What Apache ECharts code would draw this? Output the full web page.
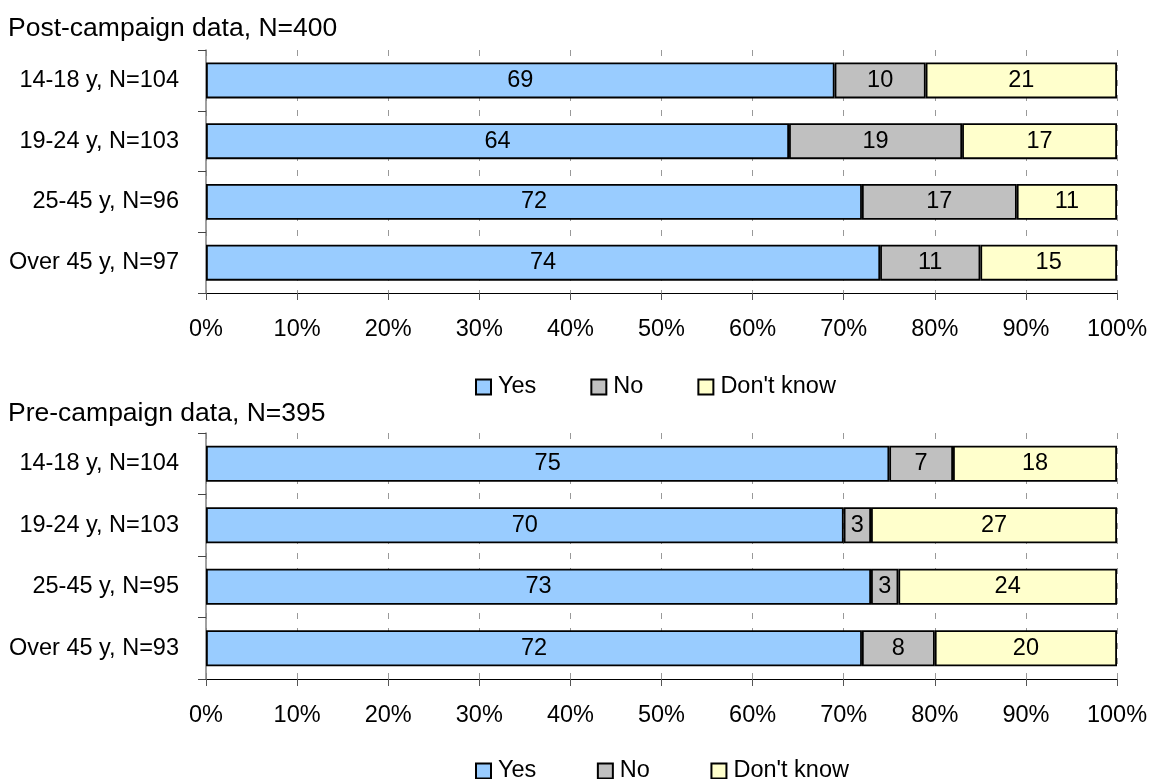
<!DOCTYPE html>
<html>
<head>
<meta charset="utf-8">
<script src="https://cdn.jsdelivr.net/npm/echarts@6/dist/echarts.min.js"></script>
<style>
html,body{margin:0;padding:0;background:#fff;}
#c{width:1151px;height:779px;}
</style>
</head>
<body>
<div id="c"></div>
<script>
const seriesNames = ["Yes", "No", "Don't know"];
const postTitle = "Post-campaign data, N=400";
const preTitle = "Pre-campaign data, N=395";
const postCategories = ["14-18 y, N=104", "19-24 y, N=103", "25-45 y, N=96", "Over 45 y, N=97"];
const preCategories = ["14-18 y, N=104", "19-24 y, N=103", "25-45 y, N=95", "Over 45 y, N=93"];
const postYes = [69, 64, 72, 74];
const postNo = [10, 19, 17, 11];
const postDK = [21, 17, 11, 15];
const preYes = [75, 70, 73, 72];
const preNo = [7, 3, 3, 8];
const preDK = [18, 27, 24, 20];

const colors = ["#99CCFF", "#C0C0C0", "#FFFFCC"];
const FONT = "'Liberation Sans', Arial, sans-serif";
const FS = 23.5;

const chart = echarts.init(document.getElementById('c'), null, {renderer: 'canvas'});

function xAxisCfg(gi) {
  return {
    gridIndex: gi, type: 'value', min: 0, max: 100, interval: 10,
    axisLine: {show: true, lineStyle: {color: '#000', width: 1}},
    axisTick: {show: true, length: 7, lineStyle: {color: '#555'}},
    axisLabel: {formatter: '{value}%', color: '#000', fontFamily: FONT, fontSize: FS, margin: 25},
    splitLine: {show: true, lineStyle: {color: '#999', type: [6, 9], width: 1}}
  };
}
function yAxisCfg(gi, cats) {
  return {
    gridIndex: gi, type: 'category', data: cats, inverse: true,
    axisLine: {show: true, lineStyle: {color: '#808080', width: 1.5}},
    axisTick: {show: true, length: 8, lineStyle: {color: '#444'}},
    axisLabel: {color: '#000', fontFamily: FONT, fontSize: FS, margin: 27},
    splitLine: {show: false}
  };
}
function barSeries(name, data, idx, gi) {
  return {
    name: name, type: 'bar', stack: 's' + gi, xAxisIndex: gi, yAxisIndex: gi,
    data: data, barWidth: 36,
    itemStyle: {color: colors[idx], borderColor: '#000', borderWidth: 1.8},
    label: {show: true, position: 'inside', color: '#000', fontFamily: FONT, fontSize: FS},
    emphasis: {disabled: true}
  };
}
const legendCommon = {
  left: 470, itemWidth: 15, itemHeight: 15, itemGap: 54,
  textStyle: {color: '#000', fontFamily: FONT, fontSize: FS, padding: [0, 0, 0, 2]},
  icon: 'rect', selectedMode: false
};

chart.setOption({
  animation: false,
  backgroundColor: '#fff',
  title: [
    {text: postTitle, left: 8, top: 15, padding: 0, textStyle: {color: '#000', fontFamily: FONT, fontSize: 26.5, fontWeight: 'normal'}},
    {text: preTitle, left: 8, top: 400, padding: 0, textStyle: {color: '#000', fontFamily: FONT, fontSize: 26.5, fontWeight: 'normal'}}
  ],
  legend: [
    Object.assign({}, legendCommon, {top: 370, data: seriesNames.map(n => n)}),
    Object.assign({}, legendCommon, {top: 754, data: seriesNames.map(n => n + ' ')})
  ],
  grid: [
    {left: 206, right: 34, top: 50, height: 243},
    {left: 206, right: 34, top: 433, height: 246}
  ],
  xAxis: [xAxisCfg(0), xAxisCfg(1)],
  yAxis: [yAxisCfg(0, postCategories), yAxisCfg(1, preCategories)],
  series: [
    barSeries(seriesNames[0], postYes, 0, 0),
    barSeries(seriesNames[1], postNo, 1, 0),
    barSeries(seriesNames[2], postDK, 2, 0),
    barSeries(seriesNames[0] + ' ', preYes, 0, 1),
    barSeries(seriesNames[1] + ' ', preNo, 1, 1),
    barSeries(seriesNames[2] + ' ', preDK, 2, 1)
  ]
});
</script>
</body>
</html>
